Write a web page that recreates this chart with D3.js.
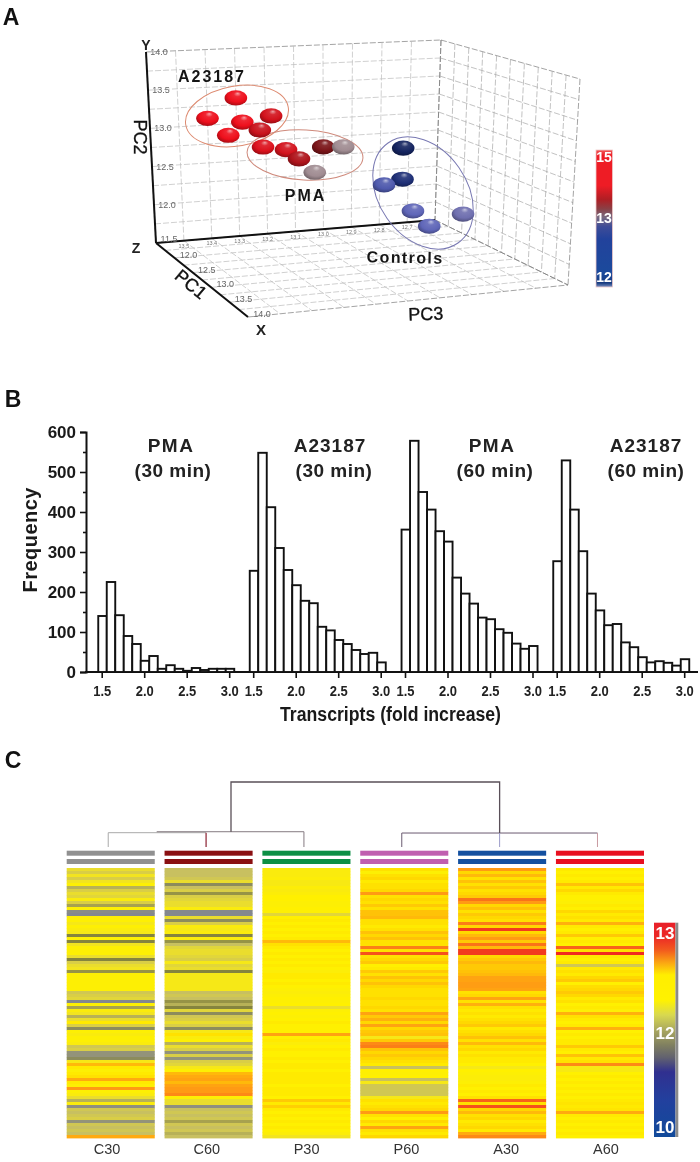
<!DOCTYPE html>
<html><head><meta charset="utf-8">
<script src="https://cdn.jsdelivr.net/npm/d3@7"></script>
<style>
html,body{margin:0;padding:0;background:#fff}
svg{display:block;filter:blur(0.5px)}
text{font-family:"Liberation Sans",Arial,sans-serif}
</style></head><body><svg id="c" width="700" height="1162"></svg>
<script>
// ---------- Panel A data ----------
const groupNames = ["A23187","PMA","Controls"];
const pc3Values = [13.30,13.40,13.28,13.18,13.33,13.22, 13.21,13.13,13.085,13.00,12.93,13.03, 12.72,12.72,12.785,12.68,12.50,12.62];
const pc2Values = [13.34,13.09,13.015,13.075,12.85,12.895, 12.665,12.61,12.475,12.615,12.60,12.28, 12.53,12.10,12.04,11.65,11.55,11.42];
const levels    = [15,15,15,14.7,15,14.6, 14.8,14.7,14.3,13.7,13,13, 12,12.12,12.5,12.6,12.7,12.6];
const pc2Ticks = [14,13.5,13,12.5,12,11.5];
const pc1Ticks = [12,12.5,13,13.5,14];
const pc3Ticks = [13.5,13.4,13.3,13.2,13.1,13,12.9,12.8,12.7];
const gridSteps = [0,1,2,3,4,5,6,7,8,9,10];
// ---------- Panel B data ----------
const bins = [1.5,1.6,1.7,1.8,1.9,2.0,2.1,2.2,2.3,2.4,2.5,2.6,2.7,2.8,2.9,3.0];
const pma30  = [140,225,142,90,70,28,40,8,17,8,3,10,5,8,8,8];
const a2330  = [253,548,412,310,255,217,178,172,113,104,80,70,55,45,48,24];
const pma60  = [356,578,450,406,352,326,236,196,171,136,132,107,98,71,58,65];
const a2360  = [277,529,406,302,196,154,117,120,74,62,37,24,27,23,16,32];
const histTitles = [["PMA","(30 min)"],["A23187","(30 min)"],["PMA","(60 min)"],["A23187","(60 min)"]];
const xTicks = [1.5,2.0,2.5,3.0];
// ---------- Panel C data ----------
const conditions = ["C30","C60","P30","P60","A30","A60"];
const condColors = ["#909090","#8a1012","#0d8f45","#c05fb0","#1450a0","#e81020"];
const C30 = [12.2,12.1,12.25,12.1,12.25,12.4,11.95,12.1,12.2,12.15,
12.35,12.1,11.9,12.4,11.6,11.55,12.4,12.4,12.3,12.4,
12.35,12.3,11.8,12.4,11.8,12.25,12.4,12.4,12.4,12.2,
11.8,12.1,12.2,12.25,11.85,12.4,12.4,12.4,12.4,12.4,
12.4,12.05,12.1,12.15,11.55,12.4,11.9,12.35,12.25,11.95,
12.2,12.45,12.1,11.75,12.4,12.35,12.4,12.4,12.35,12.05,
12.1,11.7,11.7,11.75,12.3,12.65,12.45,12.4,12.45,12.5,
12.7,12.45,12.4,12.75,12.4,12.35,12.2,11.95,12.35,11.65,
12.05,12.0,12.05,12.1,11.7,12.05,12.0,12.05,12.0,12.7];
const C60 = [12.0,12.0,12.0,12.05,12.2,11.75,12.0,12.1,11.85,12.1,
12.15,12.2,12.2,12.35,11.55,11.55,12.2,11.75,12.1,12.35,
12.3,12.35,11.8,12.35,11.85,12.0,12.15,12.2,12.2,12.15,
12.1,12.3,12.15,12.2,11.8,12.3,12.3,12.3,12.3,12.3,
12.3,12.0,12.05,12.0,11.85,11.95,11.8,12.15,11.75,12.05,
12.1,12.2,12.1,11.75,12.3,12.5,12.35,12.4,11.95,12.2,
12.1,11.7,12.1,11.7,12.1,12.15,12.3,12.4,12.65,12.7,
12.72,12.65,12.72,12.75,12.75,12.78,12.4,12.2,12.2,11.65,
12.0,12.05,12.0,12.05,11.9,12.05,12.0,12.05,11.95,12.0];
const P30 = [12.35,12.35,12.35,12.38,12.32,12.32,12.38,12.35,12.38,12.42,
12.42,12.4,12.4,12.42,12.4,12.15,12.42,12.45,12.42,12.45,
12.42,12.45,12.42,12.45,12.65,12.5,12.45,12.42,12.45,12.42,
12.45,12.42,12.45,12.42,12.38,12.45,12.45,12.42,12.45,12.42,
12.4,12.38,12.4,12.42,12.4,12.42,12.2,12.4,12.42,12.4,
12.42,12.45,12.42,12.42,12.42,12.72,12.42,12.45,12.38,12.42,
12.45,12.42,12.42,12.45,12.42,12.45,12.45,12.42,12.45,12.45,
12.45,12.45,12.42,12.45,12.45,12.45,12.42,12.6,12.45,12.58,
12.45,12.42,12.45,12.42,12.45,12.42,12.45,12.42,12.38,12.25];
const P60 = [12.5,12.4,12.5,12.55,12.45,12.5,12.5,12.55,12.75,12.5,
12.55,12.5,12.6,12.5,12.62,12.62,12.65,12.5,12.5,12.45,
12.5,12.62,12.55,12.62,12.5,12.5,12.8,12.5,12.88,12.5,
12.55,12.6,12.42,12.45,12.6,12.5,12.62,12.55,12.62,12.55,
12.5,12.5,12.5,12.55,12.5,12.5,12.55,12.5,12.72,12.6,
12.68,12.55,12.72,12.55,12.6,12.62,12.3,12.6,12.78,12.8,
12.62,12.55,12.6,12.55,12.5,12.45,12.0,12.42,12.4,12.42,
12.0,12.3,12.05,12.05,12.05,12.05,12.3,12.5,12.45,12.5,
12.55,12.75,12.5,12.42,12.55,12.45,12.72,12.5,12.45,12.55];
const A30 = [12.75,12.55,12.65,12.5,12.62,12.5,12.6,12.5,12.55,12.6,
12.82,12.75,12.55,12.62,12.5,12.6,12.55,12.5,12.8,12.55,
12.92,12.55,12.65,12.75,12.6,12.82,12.65,12.92,12.92,12.55,
12.6,12.65,12.6,12.6,12.62,12.65,12.72,12.72,12.74,12.74,
12.72,12.5,12.55,12.72,12.5,12.68,12.5,12.45,12.5,12.45,
12.5,12.55,12.6,12.45,12.5,12.55,12.62,12.5,12.65,12.5,
12.55,12.45,12.5,12.45,12.45,12.42,12.3,12.42,12.4,12.38,
12.38,12.4,12.45,12.42,12.45,12.42,12.5,12.85,12.5,12.88,
12.55,12.65,12.5,12.55,12.45,12.5,12.55,12.45,12.7,12.78];
const A60 = [12.45,12.42,12.45,12.42,12.45,12.62,12.45,12.55,12.45,12.42,
12.42,12.4,12.45,12.42,12.55,12.45,12.5,12.45,12.68,12.45,
12.42,12.45,12.6,12.42,12.45,12.42,12.85,12.5,12.95,12.45,
12.42,12.45,12.05,12.45,12.5,12.45,12.55,12.6,12.42,12.52,
12.55,12.6,12.55,12.45,12.5,12.42,12.45,12.4,12.68,12.5,
12.45,12.42,12.45,12.68,12.42,12.45,12.42,12.45,12.45,12.6,
12.45,12.42,12.62,12.45,12.5,12.78,12.32,12.32,12.42,12.45,
12.42,12.45,12.42,12.45,12.42,12.45,12.42,12.45,12.48,12.45,
12.48,12.7,12.45,12.42,12.45,12.42,12.45,12.42,12.45,12.42];
const heatColumns = [C30,C60,P30,P60,A30,A60];
const legendCLabels = [13,12,10];
const legendALabels = [15,13,12];

const svg = d3.select("#c");
const defs = svg.append("defs");
const FONT = '"Liberation Sans",Arial,sans-serif';
function label(x,y,t,o={}){
  const e = svg.append("text").attr("x",x).attr("y",y).text(t)
    .attr("font-size",o.size||12).attr("fill",o.fill||"#111")
    .attr("font-weight",o.bold===false?"normal":"bold")
    .attr("text-anchor",o.anchor||"middle");
  if(o.ls) e.style("letter-spacing",o.ls+"px");
  if(o.rot!==undefined) e.attr("transform",`rotate(${o.rot} ${x} ${y})`);
  if(o.len) e.attr("textLength",o.len).attr("lengthAdjust",o.adj||"spacingAndGlyphs");
  return e;
}
label(11,25,"A",{size:23}); label(13,407,"B",{size:23}); label(13,768,"C",{size:23});

// ================= Panel A =================
const quad = (a,b,c,d) => (u,v) => [
  (1-u)*(1-v)*a[0]+u*(1-v)*b[0]+u*v*c[0]+(1-u)*v*d[0],
  (1-u)*(1-v)*a[1]+u*(1-v)*b[1]+u*v*c[1]+(1-u)*v*d[1]];
const TL=[146,52],TR=[441,40],BL=[156,243],BR=[435,220],TR2=[580,79],BR2=[568,285],FL=[248,317];
const back = quad(TL,TR,BR,BL), side = quad(TR,TR2,BR2,BR), floor = quad(BL,BR,BR2,FL);
const pc3S = d3.scaleLinear().domain([13.6,12.6]).range([0,1]);
const pc2S = d3.scaleLinear().domain([14,11.5]).range([0,1]);
const pc1S = d3.scaleLinear().domain([11.5,14]).range([0,1]);
const stepS = d3.scaleLinear().domain([0,10]).range([0,1]);
const gridG = svg.append("g").attr("fill","none").attr("stroke-width",0.7);
const seg = (p,q,col) => gridG.append("line").attr("x1",p[0]).attr("y1",p[1]).attr("x2",q[0]).attr("y2",q[1]).attr("stroke",col).attr("stroke-dasharray","6 2");
[back,side,floor].forEach(f=>{
  const col = f===side ? "#a8a8a8" : "#bcbcbc";
  gridSteps.forEach(s=>{
    const t=stepS(s);
    const edge = s===0||s===10;
    seg(f(t,0),f(t,1),edge?"#7c7c7c":col); seg(f(0,t),f(1,t),edge?"#7c7c7c":col);
  });
});
const axisG = svg.append("g").attr("stroke","#111").attr("stroke-width",2);
[[TL,BL],[BL,BR],[BL,FL]].forEach(([p,q])=>axisG.append("line").attr("x1",p[0]).attr("y1",p[1]).attr("x2",q[0]).attr("y2",q[1]));
pc2Ticks.forEach(t=>{const p=back(0,pc2S(t)); label(p[0]+13,p[1]+(t===11.5?-1:3),t.toFixed(1),{size:9,bold:false,fill:"#666"});});
pc1Ticks.forEach(t=>{const p=floor(0,pc1S(t)); label(p[0]+14,p[1]+0,t.toFixed(1),{size:9,bold:false,fill:"#666"});});
pc3Ticks.forEach(t=>{const p=back(pc3S(t),1); label(p[0],p[1]+7,t.toFixed(1),{size:5.5,bold:false,fill:"#777"});});
label(146,50,"Y",{size:14,fill:"#222"}); label(136,253,"Z",{size:14,fill:"#222"}); label(261,335,"X",{size:15,fill:"#222"});
const sw = e => e.style("stroke","#111").style("stroke-width",.35);
sw(label(134,137,"PC2",{size:18,rot:90,bold:false,fill:"#111"}));
sw(label(187,289,"PC1",{size:18,rot:40,bold:false,fill:"#111"}));
sw(label(426,320,"PC3",{size:18,rot:-2,bold:false,fill:"#111"}));
const ringData = [{c:[237,116],rx:52,ry:30,a:-10,col:"#dd8a70"},{c:[305,155],rx:58,ry:25,a:3,col:"#cf8a7c"},{c:[423,193],rx:61,ry:44,a:55,col:"#7878b2"}];
svg.append("g").selectAll("ellipse").data(ringData).join("ellipse")
 .attr("rx",d=>d.rx).attr("ry",d=>d.ry).attr("fill","none").attr("stroke",d=>d.col).attr("stroke-width",1)
 .attr("transform",d=>`translate(${d.c}) rotate(${d.a})`);
const levelColor = d3.scaleLinear().domain([12,12.3,12.6,13,13.7,14.5,15])
  .range(["#14245f","#2c3f98","#5f66b8","#a08c92","#7a1418","#c0141c","#ee0f1c"]);
pc3Values.forEach((v,i)=>{
  const base = levelColor(levels[i]);
  const g = defs.append("radialGradient").attr("id","s"+i).attr("cx",.55).attr("cy",.42).attr("r",.64).attr("fx",.58).attr("fy",.2);
  [[0,d3.interpolateRgb(base,"#fff")(.6)],[.25,d3.interpolateRgb(base,"#fff")(.1)],[.65,base],[1,d3.interpolateRgb(base,"#000")(.35)]]
    .forEach(([o,c])=>g.append("stop").attr("offset",o).attr("stop-color",c));
});
const spheres = pc3Values.map((v,i)=>({i,p:back(pc3S(v),pc2S(pc2Values[i]))}));
svg.append("g").selectAll("ellipse").data(spheres).join("ellipse")
 .attr("cx",d=>d.p[0]).attr("cy",d=>d.p[1]).attr("rx",11.3).attr("ry",7.6).attr("fill",d=>`url(#s${d.i})`);
label(212,82,groupNames[0],{size:16,ls:2,fill:"#151515"});
label(305.5,201,groupNames[1],{size:16,ls:2,fill:"#151515"});
label(405,263,groupNames[2],{size:16,ls:1.4,fill:"#151515",rot:1});
const la = defs.append("linearGradient").attr("id","la").attr("x1",0).attr("x2",0).attr("y1",0).attr("y2",1);
[[0,"#f05a5a"],[.04,"#ee1c25"],[.26,"#ee1c25"],[.36,"#b01e24"],[.43,"#8a4046"],[.49,"#7a6a80"],[.56,"#3e4c98"],[.65,"#22429c"],[.9,"#1b4a9c"],[.97,"#163a80"],[1,"#7a90c0"]]
  .forEach(([o,c])=>la.append("stop").attr("offset",o).attr("stop-color",c));
svg.append("rect").attr("x",596).attr("y",150).attr("width",16.5).attr("height",137).attr("fill","url(#la)").attr("stroke","#eec8c8").attr("stroke-width",.8);
const legAY = d3.scaleLinear().domain([15,13,12]).range([162,223,282]);
legendALabels.forEach(t=>label(604,legAY(t),t,{size:14,fill:"#fff"}));

// ================= Panel B =================
const yB = d3.scaleLinear().domain([0,600]).range([672,432]);
const yMajor = d3.axisLeft(yB).tickValues([0,100,200,300,400,500,600]).tickSize(6).tickPadding(4);
const yMinor = d3.axisLeft(yB).tickValues([50,150,250,350,450,550]).tickSize(3).tickFormat("");
const gy = svg.append("g").attr("transform","translate(86,0)").call(yMajor);
svg.append("g").attr("transform","translate(86,0)").call(yMinor).select(".domain").remove();
gy.selectAll("text").attr("font-size",17).attr("font-weight","bold").attr("fill","#1a1a1a").style("font-family",FONT);
svg.selectAll(".tick line").attr("stroke","#111").attr("stroke-width",1.6);
gy.select(".domain").attr("stroke","#111").attr("stroke-width",2);
svg.append("line").attr("x1",85).attr("x2",698).attr("y1",672).attr("y2",672).attr("stroke","#111").attr("stroke-width",2);
const hists = [pma30,a2330,pma60,a2360];
const xStarts = [101.7,253.2,405,556.7];
const titleX = [[171,173],[330,334],[492,495],[646,646]];
hists.forEach((vals,k)=>{
  const x = d3.scaleLinear().domain([1.5,3]).range([xStarts[k],xStarts[k]+127.5]);
  const w = x(1.6)-x(1.5);
  svg.append("g").selectAll("rect").data(vals).join("rect")
    .attr("x",(d,i)=>x(bins[i])-w/2+.8).attr("width",w).attr("y",d=>yB(d)).attr("height",d=>yB(0)-yB(d))
    .attr("fill","#fff").attr("stroke","#111").attr("stroke-width",1.9);
  const ax = svg.append("g").attr("transform","translate(0,672)")
    .call(d3.axisBottom(x).tickValues(xTicks).tickFormat(d3.format(".1f")).tickSize(6).tickSizeOuter(0).tickPadding(8));
  ax.select(".domain").remove();
  ax.selectAll("line").attr("stroke","#111").attr("stroke-width",1.6);
  ax.selectAll("text").attr("font-size",14).attr("font-weight","bold").attr("fill","#222").style("font-family",FONT)
    .attr("textLength",18).attr("lengthAdjust","spacingAndGlyphs");
  label(titleX[k][0],452,histTitles[k][0],{size:19,ls:k%2?1:1.5,fill:"#222"});
  label(titleX[k][1],477,histTitles[k][1],{size:19,ls:.5,fill:"#222"});
});
label(36.5,540,"Frequency",{size:20,rot:-90,len:105,adj:"spacing",fill:"#1a1a1a"});
label(390.5,721,"Transcripts (fold increase)",{size:20,len:221,fill:"#1a1a1a"});

// ================= Panel C =================
const xC = d3.scaleBand().domain(conditions).range([66.7,644]).paddingInner(0.1);
const yC = d3.scaleBand().domain(d3.range(90)).range([868,1138]);
const heatColor = d3.scaleLinear().domain([11.55,11.7,11.8,12.0,12.25,12.42,12.55,12.75,12.95])
  .range(["#84888e","#93937a","#85843e","#c8c060","#f2e420","#fff000","#ffd800","#ff9a14","#f02a20"]);
conditions.forEach((c,k)=>{
  const g = svg.append("g");
  g.selectAll("rect").data(heatColumns[k]).join("rect")
    .attr("x",xC(c)).attr("width",xC.bandwidth()).attr("y",(d,i)=>yC(i)).attr("height",yC.bandwidth()+.4).attr("fill",d=>heatColor(d));
  [850.7,859].forEach(y=>svg.append("rect").attr("x",xC(c)).attr("y",y).attr("width",xC.bandwidth()).attr("height",5).attr("fill",condColors[k]));
});
const xLab = d3.scalePoint().domain(conditions).range([107,606]);
svg.append("g").selectAll("text").data(conditions).join("text")
  .attr("x",d=>xLab(d)).attr("y",1154).attr("text-anchor","middle").attr("font-size",14.5).attr("fill","#333").text(d=>d);
const hC = d3.scaleLinear().domain([0,1]).range([847,782]);
const cx = c => xC(c)+xC.bandwidth()/2-2.5;
const path = (pts,col,w) => svg.append("path").attr("fill","none").attr("stroke",col).attr("stroke-width",w||1).attr("d",d3.line()(pts));
const merges = {l:.235,s:.22,r:.215};
path([[cx("C30"),hC(0)],[cx("C30"),hC(merges.s)],[cx("C60"),hC(merges.s)]],"#a9a9a9");
path([[cx("C60"),hC(merges.s)],[cx("C60"),hC(0)]],"#8a2030",1.2);
path([[156.7,hC(merges.l)],[cx("P30"),hC(merges.l)],[cx("P30"),hC(0)]],"#857a80");
path([[cx("P60"),hC(0)],[cx("P60"),hC(merges.r)],[cx("A60"),hC(merges.r)]],"#6a5a70");
path([[cx("A60"),hC(merges.r)],[cx("A60"),hC(0)]],"#c89aa0");
path([[cx("A30"),hC(merges.r)],[cx("A30"),hC(0)]],"#9a9ac8");
path([[231,hC(merges.l)],[231,hC(1)],[cx("A30"),hC(1)],[cx("A30"),hC(merges.r)]],"#5a5058",1.3);
const lc = defs.append("linearGradient").attr("id","lc").attr("x1",0).attr("x2",0).attr("y1",0).attr("y2",1);
const legY = d3.scaleLinear().domain([13,12,10]).range([938.5,1039,1133]);
[[922.7,"#e8202a"],[937,"#ec2a26"],[950,"#f25a1e"],[963,"#fba812"],[975,"#ffee00"],[1000,"#fff200"],[1015,"#d8d850"],[1030,"#aaa860"],[1045,"#808060"],[1058,"#606070"],[1072,"#303090"],[1100,"#22409e"],[1137,"#114a9a"]]
  .forEach(([y,c])=>lc.append("stop").attr("offset",(y-922.7)/(1137-922.7)).attr("stop-color",c));
svg.append("rect").attr("x",654).attr("y",922.7).attr("width",21.5).attr("height",214.3).attr("fill","url(#lc)");
svg.append("rect").attr("x",675.5).attr("y",922.7).attr("width",2.8).attr("height",214.3).attr("fill","#8a8a8a");
legendCLabels.forEach(t=>label(665,legY(t),t,{size:17,fill:"#fff"}));
</script></body></html>
